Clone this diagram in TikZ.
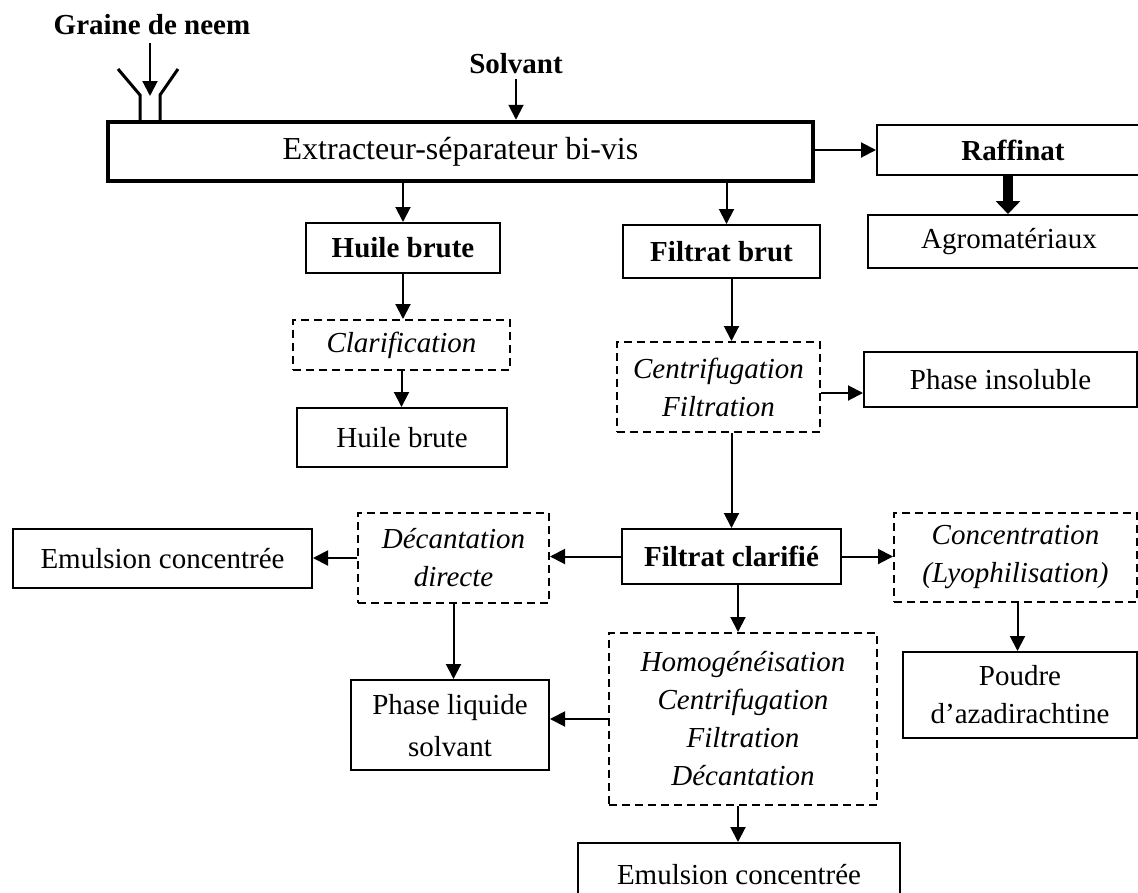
\documentclass[tikz,border=0pt]{standalone}
\usepackage{fontspec}
\setmainfont{Liberation Serif}
\usetikzlibrary{arrows.meta}
\begin{document}
\begin{tikzpicture}[x=1pt,y=-1pt,
  every node/.style={font=\fontsize{29}{38}\selectfont, inner sep=0pt, align=center},
  box/.style={draw, line width=2pt, minimum width=#1},
  dbox/.style={draw, line width=2pt, dash pattern=on 8pt off 5pt, font=\fontsize{29}{38}\selectfont\itshape, minimum width=#1},
  arr/.style={line width=2pt, -{Triangle[length=15pt,width=15pt]}},
  bigarr/.style={line width=10pt, -{Triangle[length=13pt,width=24pt]}},
  lbl/.style={font=\fontsize{29}{38}\selectfont\bfseries}
]
\useasboundingbox (0,0) rectangle (1138,892);

% labels
\node[lbl] (gn) at (152,25) {Graine de neem};
\node[lbl] (solv) at (516,64) {Solvant};

% main box
\node[draw, line width=4.5pt, minimum width=705pt, minimum height=59pt, font=\fontsize{32}{38}\selectfont] (main) at (460.5,151.5) {Extracteur-séparateur bi-vis};

% hopper
\draw[line width=3pt] (118,69) -- (140,95) -- (140,121);
\draw[line width=3pt] (178,69) -- (160,95) -- (160,121);
\coordinate (gtip) at (150,96);
\coordinate (gstart) at (150,43);
\draw[arr] (gstart) -- (gtip);

% right column
\node[box=272pt, minimum height=50pt, lbl] (raff) at (1013,150) {Raffinat};
\node[box=282pt, minimum height=53pt] (agro) at (1009,241.5) {Agromatériaux};

% left branch
\node[box=194pt, minimum height=50pt, lbl] (hb1) at (403,248) {Huile brute};
\node[dbox=217pt, minimum height=50pt] (clar) at (401.5,345) {Clarification};
\node[box=210pt, minimum height=59pt] (hb2) at (402,437.5) {Huile brute};

% middle branch
\node[box=197pt, minimum height=53pt, lbl] (fb) at (721.5,251.5) {Filtrat brut};
\node[dbox=203pt, minimum height=90pt] (cf) at (718.5,387) {Centrifugation\\Filtration};
\node[box=273pt, minimum height=55pt] (pi) at (1000.5,379.5) {Phase insoluble};
\node[box=219pt, minimum height=55pt, lbl] (fc) at (731.5,556.5) {Filtrat clarifié};
\node[dbox=243pt, minimum height=89pt] (conc) at (1015.5,557.5) {Concentration\\(Lyophilisation)};
\node[box=234pt, minimum height=86pt] (poudre) at (1020,695) {Poudre\\d’azadirachtine};
\node[dbox=191pt, minimum height=90pt] (dec) at (453.5,558) {Décantation\\directe};
\node[box=299pt, minimum height=59pt] (emul1) at (162.5,558.5) {Emulsion concentrée};
\node[box=198pt, minimum height=90pt, text depth=-6pt] (pl) at (450,725) {Phase liquide\\[4pt]solvant};
\node[dbox=268pt, minimum height=172pt] (homo) at (743,719) {Homogénéisation\\Centrifugation\\Filtration\\Décantation};
\node[box=322pt, minimum height=64pt] (emul2) at (739,875) {Emulsion concentrée};

% connectors
\draw[arr, shorten <=5pt] (solv.south) -- (solv.south |- main.north);
\draw[arr] (main.east |- raff.west) -- (raff.west);
\draw[bigarr] ([xshift=-5pt]raff.south) -- ([xshift=-5pt]raff.south |- agro.north);
\draw[arr] (hb1.north |- main.south) -- (hb1.north);
\draw[arr] (hb1.south) -- (hb1.south |- clar.north);
\draw[arr] (clar.south) -- (clar.south |- hb2.north);
\draw[arr] ([xshift=5pt]fb.north |- main.south) -- ([xshift=5pt]fb.north);
\draw[arr] ([xshift=10pt]fb.south) -- ([xshift=10pt]fb.south |- cf.north);
\draw[arr] ([yshift=-6pt]cf.east) -- ([yshift=-6pt]cf.east -| pi.west);
\draw[arr] (fc.north |- cf.south) -- (fc.north);
\draw[arr] (fc.east) -- (fc.east -| conc.west);
\draw[arr] ([xshift=2pt]conc.south) -- ([xshift=2pt]conc.south |- poudre.north);
\draw[arr] (fc.west) -- (fc.west -| dec.east);
\draw[arr] (dec.west) -- (dec.west -| emul1.east);
\draw[arr] (dec.south) -- (dec.south |- pl.north);
\draw[arr] ([xshift=-5pt]homo.north |- fc.south) -- ([xshift=-5pt]homo.north);
\draw[arr] (homo.west) -- (homo.west -| pl.east);
\draw[arr] ([xshift=-5pt]homo.south) -- ([xshift=-5pt]homo.south |- emul2.north);
\end{tikzpicture}
\end{document}
